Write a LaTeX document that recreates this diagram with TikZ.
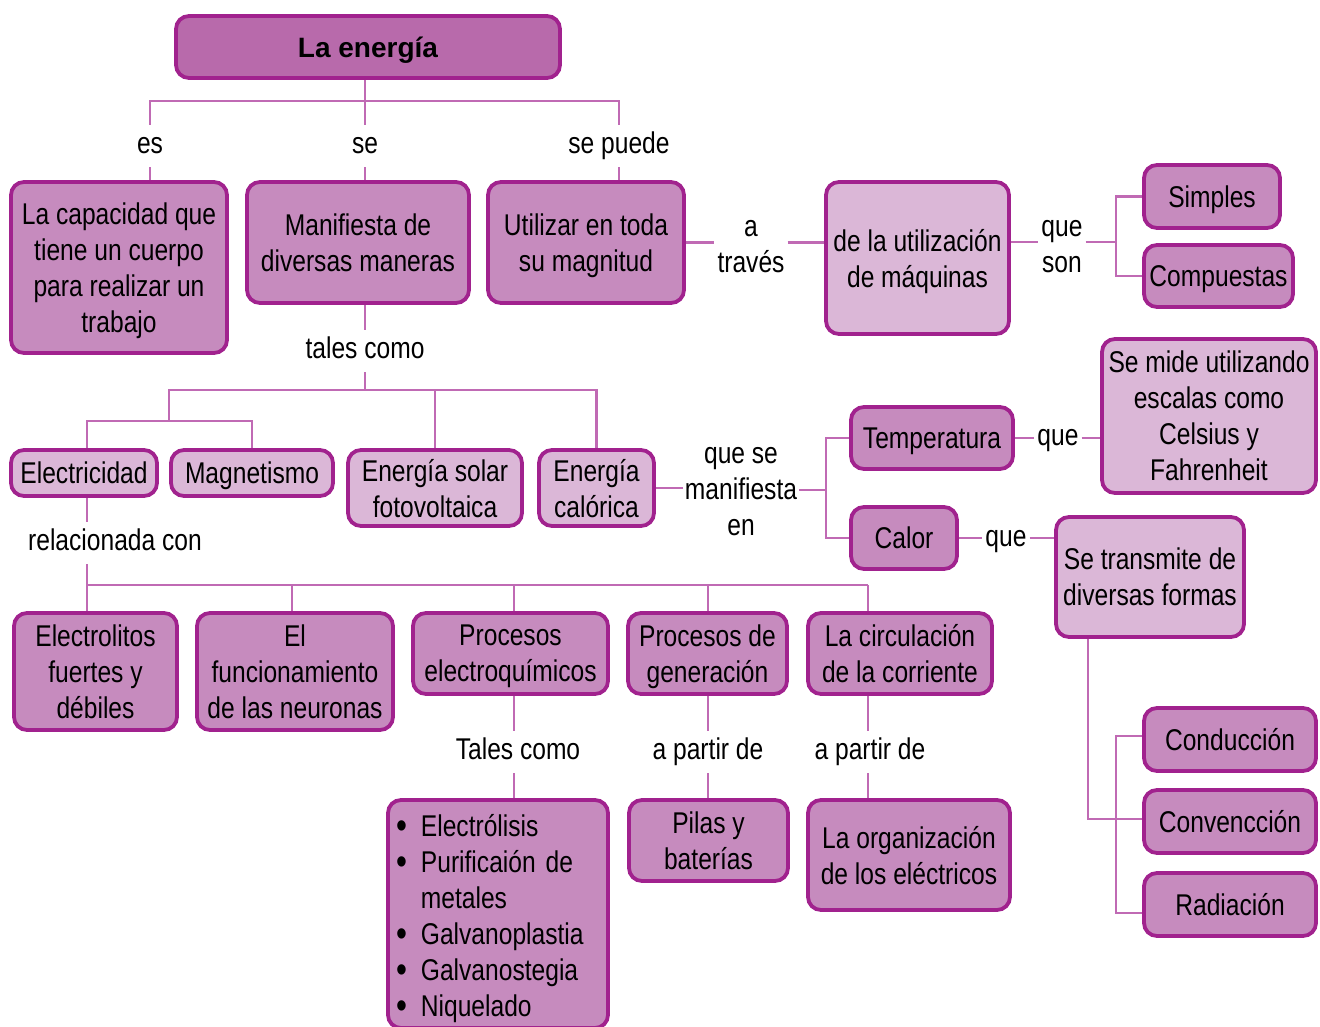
\documentclass[tikz,border=0pt]{standalone}
\usepackage{fontspec}
\setmainfont{Liberation Sans}[FakeStretch=0.82]
\newfontfamily\titlefont{Liberation Sans}
\definecolor{bord}{HTML}{A1228E}
\definecolor{titlef}{HTML}{B86AAB}
\definecolor{medf}{HTML}{C68BBE}
\definecolor{litef}{HTML}{DBB7D7}
\definecolor{linec}{HTML}{C06AB4}
\newcommand{\bigbul}{\raisebox{-2pt}{\fontsize{38}{36}\selectfont\textbullet}}
\begin{document}
\begin{tikzpicture}[x=1pt,y=-1pt,
  box/.style={draw=bord, line width=3.8pt, rounded corners=13pt, align=center, inner sep=0pt, font=\fontsize{30}{36}\selectfont, text depth=0pt},
  med/.style={box, fill=medf},
  lite/.style={box, fill=litef},
  conn/.style={draw=linec, line width=2.6pt},
  lab/.style={font=\fontsize{30}{36}\selectfont, inner sep=3pt, align=center},
]
\useasboundingbox (0,0) rectangle (1320,1027);

% boxes
\node[box, fill=titlef, minimum width=384pt, minimum height=62pt, font=\titlefont\bfseries\fontsize{28}{34}\selectfont] (energia) at (368,47) {La energía};
\node[med, minimum width=216pt, minimum height=171pt] (cap) at (119,267.5) {La capacidad que\\tiene un cuerpo\\para realizar un\\trabajo};
\node[med, minimum width=222pt, minimum height=121pt] (manif) at (358,242.5) {Manifiesta de\\diversas maneras};
\node[med, minimum width=196pt, minimum height=121pt] (util) at (586,242.5) {Utilizar en toda\\su magnitud};
\node[lite, minimum width=183pt, minimum height=152pt] (maq) at (917.5,258) {de la utilización\\de máquinas};
\node[med, minimum width=136pt, minimum height=63pt] (simples) at (1212,196.5) {Simples};
\node[med, minimum width=149pt, minimum height=62pt] (compuestas) at (1218.5,276) {Compuestas};
\node[lite, minimum width=214pt, minimum height=154pt] (semide) at (1209,416) {Se mide utilizando\\escalas como\\Celsius y\\Fahrenheit};
\node[lite, minimum width=146pt, minimum height=46pt] (electr) at (84,473) {Electricidad};
\node[lite, minimum width=162pt, minimum height=46pt] (magnet) at (252,473) {Magnetismo};
\node[lite, minimum width=174pt, minimum height=76pt] (solar) at (435,488) {Energía solar\\fotovoltaica};
\node[lite, minimum width=115pt, minimum height=76pt] (calorica) at (596.5,488) {Energía\\calórica};
\node[med, minimum width=162pt, minimum height=62pt] (temp) at (932,438) {Temperatura};
\node[med, minimum width=106pt, minimum height=62pt] (calor) at (904,538) {Calor};
\node[lite, minimum width=188pt, minimum height=120pt] (transmite) at (1150,577) {Se transmite de\\diversas formas};
\node[med, minimum width=163pt, minimum height=117pt] (electrolitos) at (95.5,671.5) {Electrolitos\\fuertes y\\débiles};
\node[med, minimum width=196pt, minimum height=117pt] (neuronas) at (295,671.5) {El\\funcionamiento\\de las neuronas};
\node[med, minimum width=195pt, minimum height=81pt] (electroq) at (510.5,653.5) {Procesos\\electroquímicos};
\node[med, minimum width=159pt, minimum height=81pt] (generacion) at (707.5,653.5) {Procesos de\\generación};
\node[med, minimum width=184pt, minimum height=81pt] (circ) at (900,653.5) {La circulación\\de la corriente};
\node[med, minimum width=220pt, minimum height=228pt, text width=204pt, inner xsep=8pt, align=left] (bullets) at (498,914) {%
\begin{tabular}[b]{@{}l@{\hspace{14pt}}l@{}}
\bigbul & Electrólisis\\
\bigbul & Purificaión de\\
 & metales\\
\bigbul & Galvanoplastia\\
\bigbul & Galvanostegia\\
\bigbul & Niquelado
\end{tabular}};
\node[med, minimum width=159pt, minimum height=81pt] (pilas) at (708.5,840.5) {Pilas y\\baterías};
\node[med, minimum width=202pt, minimum height=110pt] (organiz) at (909,855) {La organización\\de los eléctricos};
\node[med, minimum width=172pt, minimum height=63pt] (conduccion) at (1230,739.5) {Conducción};
\node[med, minimum width=172pt, minimum height=63pt] (conveccion) at (1230,821.5) {Convencción};
\node[med, minimum width=172pt, minimum height=63pt] (radiacion) at (1230,904.5) {Radiación};

% labels
\node[lab] (lEs) at (150,146) {\strut es};
\node[lab] (lSe) at (365,146) {\strut se};
\node[lab] (lSP) at (619,146) {\strut se puede};
\node[lab] (lTales) at (365,351) {\strut tales como};
\node[lab] (lAT) at (751,247) {a\\través};
\node[lab] (lQS) at (1062,247) {que\\son};
\node[lab] (lRel) at (115,543) {\strut relacionada con};
\node[lab, inner xsep=2pt] (lQSM) at (741,492) {que se\\manifiesta\\en};
\node[lab] (lQ1) at (1058,438) {\strut que};
\node[lab] (lQ2) at (1006,539) {\strut que};
\node[lab] (lTC) at (518,752) {\strut Tales como};
\node[lab] (lAP1) at (708,752) {\strut a partir de};
\node[lab] (lAP2) at (870,752) {\strut a partir de};

% junction coordinates
\coordinate (t1) at (365,101);
\coordinate (m1) at (365,390);
\coordinate (m2) at (169,421);
\coordinate (j2) at (1116,242);
\coordinate (j3) at (826,490);
\coordinate (e1) at (87,585);
\coordinate (e2) at (292,585);
\coordinate (e3) at (514,585);
\coordinate (e4) at (708,585);
\coordinate (e5) at (868,585);
\coordinate (s1) at (1088,819);
\coordinate (s2) at (1116,736);
\coordinate (s3) at (1116,913);

% top tree
\draw[conn] (energia.south -| t1) -- (t1);
\draw[conn] (lEs.north) |- (t1) -| (lSP.north);
\draw[conn] (t1) -- (lSe.north);
\draw[conn] (lEs.south) -- (cap.north -| lEs);
\draw[conn] (lSe.south) -- (manif.north -| lSe);
\draw[conn] (lSP.south) -- (util.north -| lSP);

% a traves / que son
\draw[conn] (util.east) -- (util.east -| lAT.west);
\draw[conn] (lAT.east |- util.east) -- (maq.west |- util.east);
\draw[conn] (maq.east |- j2) -- (lQS.west |- j2);
\draw[conn] (lQS.east |- j2) -- (j2);
\draw[conn] (simples.west) -| (j2) |- (compuestas.west);

% tales como
\draw[conn] (manif.south -| lTales) -- (lTales.north);
\draw[conn] (lTales.south) -- (m1);
\draw[conn] (m2) |- (m1) -| (calorica.north);
\draw[conn] (solar.north) -- (solar.north |- m1);
\draw[conn] (electr.north -| e1) |- (m2) -| (magnet.north);

% que se manifiesta en
\draw[conn] (calorica.east) -- (lQSM.west |- calorica.east);
\draw[conn] (lQSM.east |- j3) -- (j3);
\draw[conn] (temp.west) -| (j3) |- (calor.west);
\draw[conn] (temp.east) -- (lQ1.west |- temp.east);
\draw[conn] (lQ1.east |- temp.east) -- (semide.west |- temp.east);
\draw[conn] (calor.east) -- (lQ2.west |- calor.east);
\draw[conn] (lQ2.east |- calor.east) -- (transmite.west |- calor.east);

% relacionada con
\draw[conn] (e1 |- electr.south) -- (e1 |- lRel.north);
\draw[conn] (e1 |- lRel.south) -- (e1) -- (e5);
\draw[conn] (e1) -- (e1 |- electrolitos.north);
\draw[conn] (e2) -- (e2 |- neuronas.north);
\draw[conn] (e3) -- (e3 |- electroq.north);
\draw[conn] (e4) -- (e4 |- generacion.north);
\draw[conn] (e5) -- (e5 |- circ.north);

% lower labels
\draw[conn] (e3 |- electroq.south) -- (e3 |- lTC.north);
\draw[conn] (e3 |- lTC.south) -- (e3 |- bullets.north);
\draw[conn] (e4 |- generacion.south) -- (e4 |- lAP1.north);
\draw[conn] (e4 |- lAP1.south) -- (e4 |- pilas.north);
\draw[conn] (e5 |- circ.south) -- (e5 |- lAP2.north);
\draw[conn] (e5 |- lAP2.south) -- (e5 |- organiz.north);

% transmission
\draw[conn] (transmite.south -| s1) -- (s1) -- (s1 -| conveccion.west);
\draw[conn] (conduccion.west |- s2) -- (s2) -- (s3) -- (radiacion.west |- s3);
\end{tikzpicture}
\end{document}
